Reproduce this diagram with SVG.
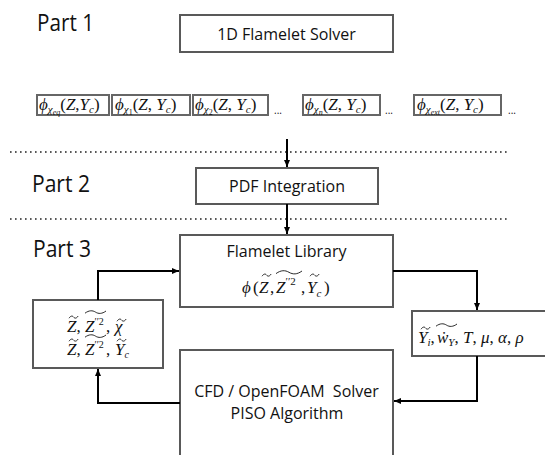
<svg xmlns="http://www.w3.org/2000/svg" width="545" height="455" viewBox="0 0 545 455">
<defs>
<marker id="ah" viewBox="0 0 7 6" refX="7" refY="3" markerWidth="7" markerHeight="6" markerUnits="userSpaceOnUse" orient="auto">
<path d="M0,0 L7,3 L0,6 z" fill="#000"/>
</marker>
<path id="tld" d="M0,2.2 c1.8,-2.6 3.4,-2.6 4.6,-1.1 c1.2,1.5 2.8,1.5 4.6,-1.1"/>
<path id="wtld" d="M0,2.6 c5,-3.6 9,-3.6 13,-1.3 c4,2.3 8,2.3 13,-1.3"/>
<path id="wtlds" d="M0,2.2 c4,-3 7.5,-3 10.5,-1.1 c3,1.9 6.5,1.9 10.5,-1.1"/>
<style>
.box{fill:#fff;stroke:#595959;stroke-width:2}
.pbox{fill:#fff;stroke:#666;stroke-width:2}
.lbl{font-family:"Open Sans","Liberation Sans",sans-serif;font-size:16px;fill:#111;text-anchor:middle}
.part{font-family:"Open Sans","Liberation Sans",sans-serif;font-size:23px;fill:#111}
.ell{font-family:"Open Sans","Liberation Sans",sans-serif;font-size:10px;fill:#111}
.m{font-family:"Liberation Serif","DejaVu Serif",serif;font-size:17px;fill:#111}
.i{font-style:italic}
.dots{stroke:#222;stroke-width:1.6;stroke-dasharray:1.6 3.4;fill:none}
.conn{stroke:#000;stroke-width:2;fill:none}
.tl{stroke:#111;stroke-width:0.9;fill:none}
</style>
</defs>

<g id="labels">
<text class="part" x="37" y="31" textLength="57" lengthAdjust="spacingAndGlyphs">Part 1</text>
<text class="part" x="32" y="192" textLength="58" lengthAdjust="spacingAndGlyphs">Part 2</text>
<text class="part" x="33" y="257" textLength="58" lengthAdjust="spacingAndGlyphs">Part 3</text>
</g>

<g id="separators">
<line class="dots" x1="10" y1="152" x2="508" y2="152"/>
<line class="dots" x1="10" y1="219" x2="508" y2="219"/>
</g>

<g id="solver1d">
<rect class="box" x="180" y="15" width="213" height="37"/>
<text class="lbl" x="286.5" y="39.5">1D Flamelet Solver</text>
</g>

<g id="phi-eq">
<rect class="pbox" x="37" y="95" width="72" height="20"/>
<text class="m" x="39" y="110"><tspan class="i">ϕ</tspan><tspan class="i" font-size="11" dy="3">χ</tspan><tspan class="i" font-size="8" dy="2">eq</tspan><tspan dy="-5">(</tspan><tspan class="i">Z</tspan>,<tspan class="i">Y</tspan><tspan class="i" font-size="11" dy="3">c</tspan><tspan dy="-3">)</tspan></text>
</g>
<g id="phi-1">
<rect class="pbox" x="112" y="95" width="78" height="20"/>
<text class="m" x="115" y="110"><tspan class="i">ϕ</tspan><tspan class="i" font-size="11" dy="3">χ</tspan><tspan font-size="8" dy="2">1</tspan><tspan dy="-5">(</tspan><tspan class="i">Z</tspan>, <tspan class="i">Y</tspan><tspan class="i" font-size="11" dy="3">c</tspan><tspan dy="-3">)</tspan></text>
</g>
<g id="phi-2">
<rect class="pbox" x="193" y="95" width="75" height="20"/>
<text class="m" x="195" y="110"><tspan class="i">ϕ</tspan><tspan class="i" font-size="11" dy="3">χ</tspan><tspan font-size="8" dy="2">2</tspan><tspan dy="-5">(</tspan><tspan class="i">Z</tspan>, <tspan class="i">Y</tspan><tspan class="i" font-size="11" dy="3">c</tspan><tspan dy="-3">)</tspan></text>
</g>
<text class="ell" x="274" y="114">...</text>
<g id="phi-n">
<rect class="pbox" x="303" y="95" width="77" height="20"/>
<text class="m" x="305" y="110"><tspan class="i">ϕ</tspan><tspan class="i" font-size="11" dy="3">χ</tspan><tspan class="i" font-size="8" dy="2">n</tspan><tspan dy="-5">(</tspan><tspan class="i">Z</tspan>, <tspan class="i">Y</tspan><tspan class="i" font-size="11" dy="3">c</tspan><tspan dy="-3">)</tspan></text>
</g>
<text class="ell" x="385" y="114">...</text>
<g id="phi-ext">
<rect class="pbox" x="414" y="95" width="87" height="20"/>
<text class="m" x="417" y="110"><tspan class="i">ϕ</tspan><tspan class="i" font-size="11" dy="3">χ</tspan><tspan class="i" font-size="8" dy="2">ext</tspan><tspan dy="-5">(</tspan><tspan class="i">Z</tspan>, <tspan class="i">Y</tspan><tspan class="i" font-size="11" dy="3">c</tspan><tspan dy="-3">)</tspan></text>
</g>
<text class="ell" x="508" y="114">...</text>

<g id="pdf">
<rect class="box" x="196" y="168" width="182" height="36"/>
<text class="lbl" x="287" y="192">PDF Integration</text>
</g>

<g id="library">
<rect class="box" x="180" y="235" width="213" height="72"/>
<text class="lbl" x="286.5" y="257">Flamelet Library</text>
<text class="m" font-size="19" y="293"><tspan class="i" x="242">ϕ</tspan><tspan x="253">(</tspan><tspan class="i" x="259">Z</tspan><tspan x="270">,</tspan><tspan class="i" x="276">Z</tspan><tspan font-size="11" dy="-8">′′2</tspan><tspan dy="8" x="301">,</tspan><tspan class="i" x="307">Y</tspan><tspan class="i" font-size="11" dy="4">c</tspan><tspan dy="-4" x="324">)</tspan></text>
<use href="#tld" class="tl" x="262" y="274"/>
<use href="#wtld" class="tl" x="276" y="271"/>
<use href="#tld" class="tl" x="310" y="274"/>
</g>

<g id="mixture">
<rect class="box" x="33" y="300" width="130" height="68"/>
<text class="m" font-size="17" y="332"><tspan class="i" x="67">Z</tspan>,<tspan class="i" x="85">Z</tspan><tspan font-size="10" dy="-7">′′2</tspan><tspan dy="7" x="106">,</tspan><tspan class="i" x="115">χ</tspan></text>
<use href="#tld" class="tl" x="69" y="316"/>
<use href="#wtlds" class="tl" x="85" y="311"/>
<use href="#tld" class="tl" x="117" y="319"/>
<text class="m" font-size="17" y="355"><tspan class="i" x="67">Z</tspan>,<tspan class="i" x="85">Z</tspan><tspan font-size="10" dy="-7">′′2</tspan><tspan dy="7" x="106">,</tspan><tspan class="i" x="115">Y</tspan><tspan class="i" font-size="10" dy="3">c</tspan></text>
<use href="#tld" class="tl" x="69" y="339"/>
<use href="#wtlds" class="tl" x="85" y="335"/>
<use href="#tld" class="tl" x="117" y="339"/>
</g>

<g id="properties">
<rect class="box" x="412" y="311" width="140" height="45"/>
<text class="m" font-size="17" y="343"><tspan class="i" x="418">Y</tspan><tspan class="i" font-size="11" dy="3">i</tspan><tspan dy="-3">,</tspan><tspan class="i" x="437">ẇ</tspan><tspan class="i" font-size="11" dy="3">Y</tspan><tspan dy="-3">, </tspan><tspan class="i">T</tspan>, <tspan class="i">μ</tspan>, <tspan class="i">α</tspan>, <tspan class="i">ρ</tspan></text>
<use href="#tld" class="tl" x="421" y="327"/>
<use href="#wtlds" class="tl" x="436" y="324"/>
</g>

<g id="cfd">
<rect class="box" x="180" y="350" width="213" height="130"/>
<text class="lbl" x="286.5" y="397" xml:space="preserve">CFD / OpenFOAM  Solver</text>
<text class="lbl" x="287" y="419">PISO Algorithm</text>
</g>

<g id="connectors">
<path class="conn" d="M287,139 V167" marker-end="url(#ah)"/>
<path class="conn" d="M287,204 V234" marker-end="url(#ah)"/>
<path class="conn" d="M98,300 V271 H179" marker-end="url(#ah)"/>
<path class="conn" d="M393,271 H477 V310" marker-end="url(#ah)"/>
<path class="conn" d="M477,356 V401 H394" marker-end="url(#ah)"/>
<path class="conn" d="M180,403 H98 V369" marker-end="url(#ah)"/>
</g>
</svg>
